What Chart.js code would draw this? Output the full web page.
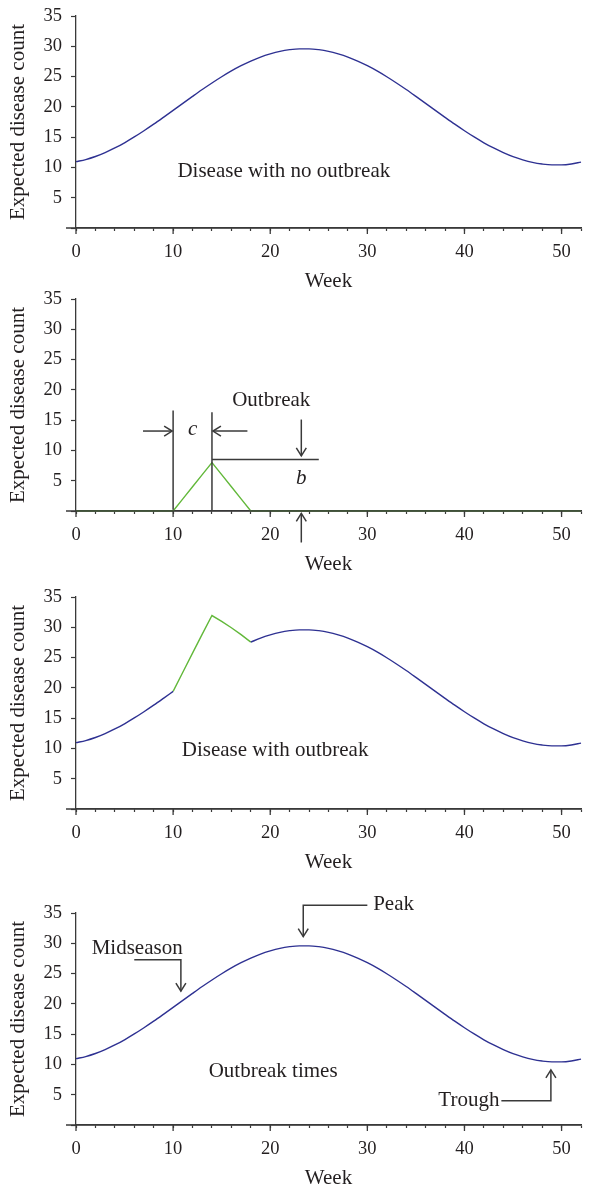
<!DOCTYPE html>
<html>
<head>
<meta charset="utf-8">
<script src="https://cdn.jsdelivr.net/npm/chart.js@4.4.1/dist/chart.umd.min.js"></script>
<style>
  html, body { margin: 0; padding: 0; background: #fff; overflow: hidden; }
  body { width: 591px; height: 1187px; position: relative; }
  .panel { position: absolute; left: 0; width: 591px; height: 330px; }
</style>
</head>
<body>
<div class="panel" style="top:-20px"><canvas id="noOutbreak" width="591" height="330"></canvas></div>
<div class="panel" style="top:263px"><canvas id="outbreakOnly" width="591" height="330"></canvas></div>
<div class="panel" style="top:561px"><canvas id="withOutbreak" width="591" height="330"></canvas></div>
<div class="panel" style="top:877px"><canvas id="outbreakTimes" width="591" height="330"></canvas></div>
<script>
// Weekly expected counts over one season
const weeks = [0, 1, 2, 3, 4, 5, 6, 7, 8, 9, 10, 11, 12, 13, 14, 15, 16, 17, 18, 19, 20,
  21, 22, 23, 24, 25, 26, 27, 28, 29, 30, 31, 32, 33, 34, 35, 36, 37, 38, 39, 40,
  41, 42, 43, 44, 45, 46, 47, 48, 49, 50, 51, 52];
const expectedCount = [10.95, 11.3, 11.8, 12.45, 13.21, 14.07, 15.03, 16.06, 17.14, 18.27, 19.42,
  20.58, 21.73, 22.86, 23.94, 24.97, 25.93, 26.79, 27.55, 28.22, 28.75, 29.17, 29.44, 29.58, 29.58,
  29.44, 29.17, 28.75, 28.22, 27.55, 26.79, 25.93, 24.97, 23.94, 22.86, 21.73, 20.58, 19.42, 18.27,
  17.14, 16.06, 15.03, 14.07, 13.21, 12.45, 11.78, 11.25, 10.83, 10.56, 10.42, 10.42, 10.56, 10.88];
// Triangular outbreak added on top of the seasonal curve
const outbreakCount = [0, 0, 0, 0, 0, 0, 0, 0, 0, 0, 0, 2, 4, 6, 8, 6, 4, 2, 0, 0, 0,
  0, 0, 0, 0, 0, 0, 0, 0, 0, 0, 0, 0, 0, 0, 0, 0, 0, 0, 0, 0,
  0, 0, 0, 0, 0, 0, 0, 0, 0, 0, 0, 0];
const outbreakWeeks = [10, 11, 12, 13, 14, 15, 16, 17, 18];
const withOutbreakCount = [19.42, 22.58, 25.73, 28.86, 31.94, 30.97, 29.93, 28.79, 27.55];
const yTicks = [5, 10, 15, 20, 25, 30, 35];
const xTickLabels = [0, 10, 20, 30, 40, 50];

const BLUE = '#2e3192';
const GREEN = '#62b83a';
const AXIS = '#3a3a3a';
const TEXT = '#231f20';
const SERIF = '"Liberation Serif", "Times New Roman", serif';

Chart.defaults.font.family = SERIF;
Chart.defaults.color = TEXT;

function toPoints(xs, ys) {
  return xs.map((x, i) => ({ x: x, y: ys[i] }));
}

function axes() {
  return {
    x: {
      type: 'linear', min: 0, max: 52,
      border: { color: AXIS, width: 1.3 },
      grid: { drawOnChartArea: false, tickLength: 3, color: AXIS, tickWidth: 1.2 },
      ticks: {
        stepSize: 2, autoSkip: false, maxRotation: 0, padding: 10,
        color: TEXT, font: { size: 18.5 },
        callback: v => xTickLabels.includes(v) ? String(v) : ''
      },
      title: { display: true, text: 'Week', color: TEXT, font: { size: 21 }, padding: { top: 0, bottom: 6 } },
      afterFit: s => { s.height = 72; }
    },
    y: {
      type: 'linear', min: 0, max: 35,
      border: { color: AXIS, width: 1.3 },
      grid: { drawOnChartArea: false, tickLength: 5, color: AXIS, tickWidth: 1.2 },
      ticks: {
        stepSize: 5, padding: 9, color: TEXT, font: { size: 18.5 },
        callback: v => yTicks.includes(v) ? String(v) : ''
      },
      title: { display: true, text: 'Expected disease count', color: TEXT, font: { size: 21 }, padding: { top: 6, bottom: 0 } },
      afterFit: s => { s.width = 76; }
    }
  };
}

// arrowhead as an open "V" pointing along (dx, dy)
function drawHead(ctx, x, y, dx, dy) {
  const len = Math.hypot(dx, dy) || 1;
  const ux = dx / len, uy = dy / len;
  const back = 8, spread = 5;
  ctx.beginPath();
  ctx.moveTo(x - ux * back - uy * spread, y - uy * back + ux * spread);
  ctx.lineTo(x, y);
  ctx.lineTo(x - ux * back + uy * spread, y - uy * back - ux * spread);
  ctx.stroke();
}

const notesPlugin = {
  id: 'notes',
  afterDraw(chart) {
    const { ctx, scales: { x, y } } = chart;
    const notes = chart.options.plugins.notes.items || [];
    const y0 = y.getPixelForValue(0);
    ctx.save();
    ctx.strokeStyle = AXIS;
    ctx.lineWidth = 1.3;
    // x axis runs a little past the y axis and sits over the lines; major ticks a bit longer
    ctx.beginPath();
    ctx.moveTo(x.left - 10, y0);
    ctx.lineTo(x.right, y0);
    xTickLabels.forEach(v => {
      const px = x.getPixelForValue(v);
      ctx.moveTo(px, y0);
      ctx.lineTo(px, y0 + 6);
    });
    ctx.stroke();

    ctx.lineWidth = 1.5;
    notes.forEach(n => {
      if (n.type === 'text') {
        ctx.fillStyle = TEXT;
        ctx.font = (n.italic ? 'italic ' : '') + '21px ' + SERIF;
        ctx.textAlign = n.align || 'center';
        ctx.textBaseline = 'middle';
        ctx.fillText(n.text, x.getPixelForValue(n.at[0]), y.getPixelForValue(n.at[1]));
        return;
      }
      const pts = n.pts.map(p => [x.getPixelForValue(p[0]), y.getPixelForValue(p[1])]);
      ctx.beginPath();
      pts.forEach((p, i) => i ? ctx.lineTo(p[0], p[1]) : ctx.moveTo(p[0], p[1]));
      ctx.stroke();
      if (n.type === 'arrow') {
        const a = pts[pts.length - 2], b = pts[pts.length - 1];
        drawHead(ctx, b[0], b[1], b[0] - a[0], b[1] - a[1]);
      }
    });
    ctx.restore();
  }
};

function makePanel(id, datasets, notes) {
  return new Chart(document.getElementById(id), {
    type: 'line',
    data: { datasets: datasets },
    options: {
      responsive: false,
      animation: false,
      layout: { padding: { top: 36, right: 5.4, left: 0, bottom: 10 } },
      elements: { point: { radius: 0 } },
      scales: axes(),
      plugins: {
        legend: { display: false },
        tooltip: { enabled: false },
        notes: { items: notes }
      }
    },
    plugins: [notesPlugin]
  });
}

function curve(data, color) {
  return { data: data, borderColor: color, borderWidth: 1.4, cubicInterpolationMode: 'monotone', clip: false, spanGaps: false, fill: false };
}
function straight(data, color) {
  return { data: data, borderColor: color, borderWidth: 1.4, tension: 0, clip: false, fill: false };
}

makePanel('noOutbreak',
  [curve(toPoints(weeks, expectedCount), BLUE)],
  [{ type: 'text', text: 'Disease with no outbreak', at: [21.4, 9.4] }]);

makePanel('outbreakOnly',
  [straight(toPoints(weeks, outbreakCount), GREEN)],
  [
    { type: 'line', pts: [[10, 0.2], [10, 16.6]] },
    { type: 'line', pts: [[14, 0], [14, 16.3]] },
    { type: 'arrow', pts: [[6.9, 13.2], [9.9, 13.2]] },
    { type: 'arrow', pts: [[17.65, 13.2], [14.1, 13.2]] },
    { type: 'text', text: 'c', italic: true, at: [12.0, 13.4] },
    { type: 'line', pts: [[14, 8.5], [25.0, 8.5]] },
    { type: 'arrow', pts: [[23.2, 15.1], [23.2, 9.1]] },
    { type: 'text', text: 'Outbreak', at: [20.1, 18.2] },
    { type: 'text', text: 'b', italic: true, at: [23.2, 5.4] },
    { type: 'arrow', pts: [[23.2, -5.2], [23.2, -0.4]] }
  ]);

const seasonalWithGap = weeks.map((w, i) => ({
  x: w,
  y: (w > outbreakWeeks[0] && w < outbreakWeeks[outbreakWeeks.length - 1]) ? null : expectedCount[i]
}));
makePanel('withOutbreak',
  [curve(seasonalWithGap, BLUE), straight(toPoints(outbreakWeeks, withOutbreakCount), GREEN)],
  [{ type: 'text', text: 'Disease with outbreak', at: [20.5, 9.6] }]);

makePanel('outbreakTimes',
  [curve(toPoints(weeks, expectedCount), BLUE)],
  [
    { type: 'text', text: 'Midseason', at: [6.3, 29.2] },
    { type: 'arrow', pts: [[6.0, 27.3], [10.8, 27.3], [10.8, 22.1]] },
    { type: 'text', text: 'Peak', align: 'left', at: [30.6, 36.4] },
    { type: 'arrow', pts: [[30.0, 36.3], [23.4, 36.3], [23.4, 31.1]] },
    { type: 'text', text: 'Trough', align: 'right', at: [43.6, 4.1] },
    { type: 'arrow', pts: [[43.8, 4.0], [48.9, 4.0], [48.9, 9.1]] },
    { type: 'text', text: 'Outbreak times', at: [20.3, 8.9] }
  ]);
</script>
</body>
</html>
